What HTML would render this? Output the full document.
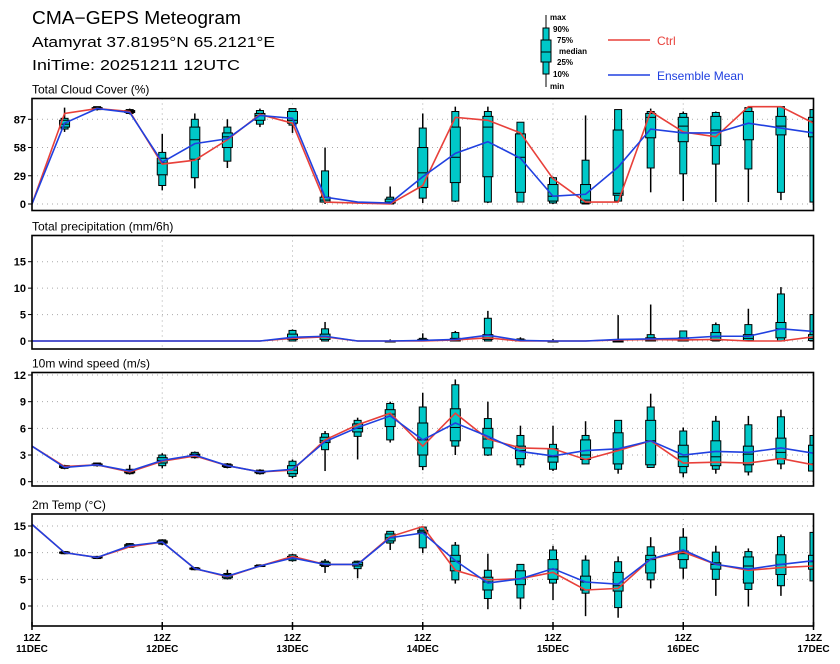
<!DOCTYPE html>
<html><head><meta charset="utf-8"><style>
body{margin:0;background:#fff;}
svg{display:block;font-family:"Liberation Sans",sans-serif;}
</style></head><body>
<svg id="chart" width="840" height="664" viewBox="0 0 840 664" xmlns="http://www.w3.org/2000/svg">
<rect width="840" height="664" fill="#fff"/>
<text x="32" y="24" font-size="18" textLength="209" lengthAdjust="spacingAndGlyphs">CMA−GEPS Meteogram</text>
<text x="32" y="47" font-size="15" textLength="243" lengthAdjust="spacingAndGlyphs">Atamyrat 37.8195°N 65.2121°E</text>
<text x="32" y="70" font-size="15" textLength="208" lengthAdjust="spacingAndGlyphs">IniTime: 20251211 12UTC</text>
<g>
<line x1="546" y1="15" x2="546" y2="87" stroke="#000" stroke-width="1"/>
<rect x="543" y="28" width="6" height="46" fill="#00c8c8" stroke="#000"/>
<rect x="541" y="40" width="10" height="22" fill="#00c8c8" stroke="#000"/>
<line x1="541" y1="52" x2="551" y2="52" stroke="#000"/>
<g font-size="8" font-weight="bold">
<text x="550" y="20">max</text><text x="553" y="32">90%</text><text x="557" y="43">75%</text>
<text x="559" y="54">median</text><text x="557" y="65">25%</text><text x="553" y="77">10%</text><text x="550" y="89">min</text></g>
</g>
<g><line x1="608" y1="40" x2="650" y2="40" stroke="#e8403a" stroke-width="1.5"/><text x="657" y="45" font-size="12" fill="#e8403a">Ctrl</text></g>
<g><line x1="608" y1="75" x2="650" y2="75" stroke="#2040e0" stroke-width="1.5"/><text x="657" y="80" font-size="12" fill="#2040e0">Ensemble Mean</text></g>
<g id="panels"></g>
</svg>
<script>
// ---- data ----
const dayLabels = ["11DEC","12DEC","13DEC","14DEC","15DEC","16DEC","17DEC"];
const cloudTicks = [0,29,58,87];
const cloudCtrl = [0,93,98,95,41,45,66,92,83,2,1,0,19,89,86,73,26,2,2,95,74,69,100,100,83];
const cloudMean = [0,83,98,94,43,62,67,91,88,7,2,1,28,52,64,47,8,10,38,77,73,73,83,78,73];
const cloudBox = [null,[74,77,79,82,86,88,99],[96,97,97,98,99,100,100],[92,93,94,95,96,97,98],[14,19,30,42,47,53,72],[16,27,46,66,79,87,93],[37,44,58,69,73,79,87],[79,82,86,91,93,96,98],[73,81,83,86,95,98,98],[0,2,2,4,7,34,58],null,[0,0,1,2,5,7,18],[1,6,17,32,58,78,93],[2,3,22,48,79,95,100],[1,2,28,79,90,95,100],[2,2,12,48,72,84,84],[0,1,3,8,20,27,28],[0,0,1,4,20,45,91],[2,3,9,11,76,97,97],[12,37,68,89,93,95,98],[3,31,64,80,89,93,95],[2,41,60,76,90,94,95],[2,36,66,95,95,99,100],[4,12,71,80,90,100,100],[1,2,69,85,89,97,99]];
const precipTicks = [0,5,10,15];
const precipCtrl = [0,0,0,0,0,0,0,0,0.5,0.8,0,0,0,0.2,0.6,0,0,0,0.2,0.3,0.2,0.3,0,0,0.8];
const precipMean = [0,0,0,0,0,0,0,0,0.7,0.9,0,0,0.1,0.3,1.1,0.1,0,0,0.3,0.4,0.5,0.9,0.9,2.3,1.8];
const precipBox = [null,null,null,null,null,null,null,null,[0,0,0.3,0.6,1.3,2.0,2.2],[0,0,0.3,0.8,1.3,2.3,3.6],null,[0,0,0,0,0,0,0.3],[0,0,0,0,0.3,0.5,1.45],[0,0,0,0.2,0.5,1.6,1.9],[0,0,0.3,0.6,1.2,4.3,5.7],[0,0,0,0.1,0.2,0.4,0.7],[0,0,0,0,0,0,0.4],null,[0,0,0,0,0,0.1,4.9],[0,0,0,0.2,0.6,1.2,6.9],[0,0,0,0.2,0.6,1.9,1.9],[0,0,0.1,0.8,1.6,3.1,3.5],[0,0,0.1,0.5,1.2,3.1,6.1],[0,0,0.6,2.3,3.5,8.9,10.2],[0,0,0.1,0.5,1.2,5.0,5.0]];
const windTicks = [0,3,6,9,12];
const windCtrl = [4.0,1.7,1.9,1.1,2.3,2.9,1.8,1.1,1.3,4.7,6.4,7.7,4.0,7.7,4.8,3.8,3.7,2.5,3.5,4.6,2.1,2.2,2.1,2.6,1.9];
const windMean = [4.0,1.6,1.9,1.2,2.4,3.0,1.8,1.1,1.4,4.5,6.1,7.4,4.7,6.6,5.1,3.4,2.9,3.5,3.7,4.6,3.0,3.4,3.3,3.8,3.2];
const windBox = [null,[1.4,1.5,1.6,1.7,1.8,1.8,1.9],[1.7,1.8,1.9,1.9,2.0,2.1,2.1],[0.8,0.9,1.0,1.1,1.3,1.4,1.9],[1.5,1.8,2.1,2.4,2.7,3.0,3.2],[2.6,2.7,2.8,3.0,3.1,3.3,3.4],[1.5,1.6,1.7,1.8,1.9,2.0,2.1],[0.8,0.9,1.0,1.1,1.2,1.3,1.4],[0.4,0.6,0.9,1.3,1.8,2.3,2.5],[1.2,3.6,4.4,4.6,5.0,5.4,5.7],[2.5,5.1,5.6,6.0,6.5,6.9,7.2],[4.4,4.7,6.2,7.6,8.1,8.8,9.0],[1.3,1.7,3.0,4.7,6.6,8.4,10.0],[3.0,4.0,4.6,6.1,8.2,10.9,11.5],[2.9,3.0,3.8,4.8,6.0,7.1,9.0],[1.6,1.9,2.6,3.5,4.0,5.2,6.3],[1.2,1.4,2.2,2.8,3.7,4.2,6.3],[2.0,2.0,2.5,3.0,4.7,5.2,6.8],[0.9,1.4,2.0,3.6,5.5,6.9,6.9],[1.6,1.6,1.9,4.6,6.9,8.4,9.9],[0.5,1.0,1.7,2.8,4.1,5.7,6.1],[0.9,1.4,1.8,2.8,4.6,6.8,7.4],[0.7,1.1,1.9,3.1,4.0,6.4,7.4],[1.4,2.0,2.6,3.3,4.9,7.3,8.1],[1.2,1.2,1.2,2.0,4.1,5.2,5.2]];
const tempTicks = [0,5,10,15];
const tempCtrl = [15.3,10.0,9.1,11.1,12.0,7.0,5.5,7.5,9.3,7.8,7.8,13.0,14.9,6.7,4.9,5.1,6.3,3.0,3.3,8.8,10.1,7.8,6.7,7.2,7.5];
const tempMean = [15.3,10.0,9.1,11.3,12.0,7.0,5.6,7.5,9.0,7.8,7.8,12.8,13.7,8.5,4.3,5.1,7.0,4.5,4.1,8.8,10.5,7.8,6.9,7.8,8.5];
const tempBox = [null,[9.7,9.8,9.9,10.0,10.1,10.2,10.3],[8.8,8.9,9.0,9.1,9.2,9.3,9.4],[10.9,11.0,11.1,11.3,11.5,11.7,11.8],[11.4,11.6,11.8,12.0,12.2,12.4,12.5],[6.7,6.8,6.9,7.0,7.1,7.2,7.3],[5.0,5.1,5.3,5.6,5.9,6.1,6.8],[7.3,7.4,7.5,7.5,7.6,7.7,7.8],[8.3,8.5,8.8,9.1,9.3,9.6,9.8],[6.2,7.4,7.6,7.8,8.2,8.4,8.8],[5.2,7.0,7.5,7.8,8.2,8.4,8.5],[10.5,11.8,12.2,12.8,13.5,14.0,14.0],[9.9,10.9,13.7,13.9,14.2,14.8,15.0],[4.2,4.9,6.6,8.4,9.5,11.4,12.0],[-0.6,1.4,3.0,4.5,5.4,6.7,9.8],[-0.6,1.5,4.0,5.1,6.6,7.8,7.8],[1.1,4.3,5.0,6.9,8.7,10.5,11.3],[-1.9,2.4,3.0,4.5,5.6,8.6,9.5],[-2.2,-0.3,2.8,3.8,6.3,8.3,9.3],[3.3,4.9,6.2,8.7,9.5,11.1,12.9],[5.1,7.1,8.7,9.8,10.3,12.9,14.6],[1.9,5.0,6.9,7.8,8.1,10.1,11.3],[-0.1,3.1,4.3,7.5,9.2,10.2,10.8],[1.9,3.8,5.9,7.8,9.6,13.0,13.4],[4.7,4.7,6.9,8.3,9.5,13.8,13.8]];

// ---- layout ----
const X0 = 32, X1 = 813.5, NSTEP = 24;
const xs = i => X0 + (X1 - X0) * i / NSTEP;
const NS = "http://www.w3.org/2000/svg";
const root = document.getElementById('panels');
function mk(tag, attrs, parent) {
  const e = document.createElementNS(NS, tag);
  for (const k in attrs) e.setAttribute(k, attrs[k]);
  (parent || root).appendChild(e);
  return e;
}
function panel(key, title, top, bottom, vmin, vmax, y0px, vmaxPx, ticks, ctrl, mean, box) {
  const ys = v => y0px + (vmaxPx - y0px) * (v - vmin) / (vmax - vmin);
  const g = mk('g', {});
  
  
  const t = mk('text', {x: 32, y: top - 5, 'font-size': 12}, g);
  t.textContent = title;
  
  
  ticks.forEach(v => {
    const y = ys(v);
    const gl = mk('line', {x1: X0, x2: X1, y1: y, y2: y, stroke: '#aaa', 'stroke-width': 1, 'stroke-dasharray': '1,4'}, g);
    
    
    mk('line', {x1: X0 - 4, x2: X0, y1: y, y2: y, stroke: '#000'}, g);
    const tl = mk('text', {x: 26, y: y + 4, 'font-size': 11, 'font-weight': 'bold', 'text-anchor': 'end'}, g);
    tl.textContent = v;
    
    
  });
  for (let d = 1; d < 6; d++) {
    const x = xs(d * 4);
    const vl = mk('line', {x1: x, x2: x, y1: top, y2: bottom, stroke: '#aaa', 'stroke-width': 1, 'stroke-dasharray': '1,4'}, g);
    
    
  }
  const cid = 'clip-' + key;
  const cp = mk('clipPath', {id: cid}, g);
  mk('rect', {x: X0, y: top, width: X1 - X0, height: bottom - top}, cp);
  const inner = mk('g', {'clip-path': 'url(#' + cid + ')'}, g);
  box.forEach((b, i) => {
    if (!b) return;
    const x = xs(i);
    const bg = mk('g', {}, inner);
    
    
    mk('line', {x1: x, x2: x, y1: ys(b[0]), y2: ys(b[6]), stroke: '#000', 'stroke-width': 1.5}, bg);
    mk('rect', {x: x - 3.5, y: ys(b[5]), width: 7, height: Math.max(ys(b[1]) - ys(b[5]), 1), fill: '#00c8c8', stroke: '#000', 'stroke-width': 1}, bg);
    mk('rect', {x: x - 5, y: ys(b[4]), width: 10, height: Math.max(ys(b[2]) - ys(b[4]), 1), fill: '#00c8c8', stroke: '#000', 'stroke-width': 1}, bg);
    mk('line', {x1: x - 5, x2: x + 5, y1: ys(b[3]), y2: ys(b[3]), stroke: '#000', 'stroke-width': 1}, bg);
  });
  const pc = mk('polyline', {points: ctrl.map((v, i) => xs(i) + ',' + ys(v)).join(' '), fill: 'none', stroke: '#e8403a', 'stroke-width': 1.6}, inner);
  
  
  const pm = mk('polyline', {points: mean.map((v, i) => xs(i) + ',' + ys(v)).join(' '), fill: 'none', stroke: '#2040e0', 'stroke-width': 1.6}, inner);
  
  
  const fr = mk('rect', {x: X0, y: top, width: X1 - X0, height: bottom - top, fill: 'none', stroke: '#000', 'stroke-width': 1.6}, g);
  
  
}
panel('cloud', 'Total Cloud Cover (%)', 98.5, 210.5, 0, 87, 204, 119.3, cloudTicks, cloudCtrl, cloudMean, cloudBox);
panel('precip', 'Total precipitation (mm/6h)', 235.5, 349, 0, 15, 341, 261.7, precipTicks, precipCtrl, precipMean, precipBox);
panel('wind', '10m wind speed (m/s)', 372.5, 486, 0, 12, 481.7, 375, windTicks, windCtrl, windMean, windBox);
panel('temp', '2m Temp (°C)', 514, 626, 0, 15, 606, 526, tempTicks, tempCtrl, tempMean, tempBox);
// x axis labels
dayLabels.forEach((d, k) => {
  const x = xs(k * 4);
  mk('line', {x1: x, x2: x, y1: 622, y2: 630, stroke: '#000', 'stroke-width': 1.5});
  const a = mk('text', {x: x, y: 641, 'font-size': 10, 'font-weight': 'bold', 'text-anchor': 'middle'});
  a.textContent = '12Z';
  
  
  const b = mk('text', {x: x, y: 652, 'font-size': 10, 'font-weight': 'bold', 'text-anchor': 'middle'});
  b.textContent = d;
  
  
});
</script>
</body></html>
